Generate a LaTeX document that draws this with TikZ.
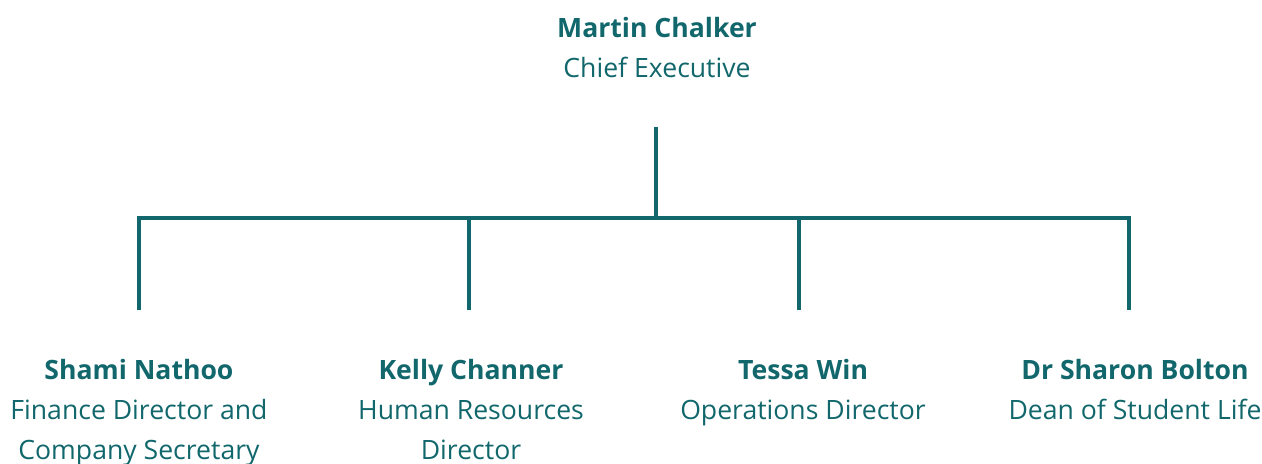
\documentclass[tikz,border=0pt]{standalone}
\usepackage{fontspec}
\setmainfont{Open Sans}
\usetikzlibrary{positioning}

\definecolor{orgteal}{HTML}{11676B}

\begin{document}
\begin{tikzpicture}[
    x=0.5pt, y=-0.5pt,
    font=\fontsize{13.3}{20}\selectfont,
    person/.style={text=orgteal, align=center, anchor=base, inner sep=0pt},
    tree/.style={draw=orgteal, line width=2pt},
]
\useasboundingbox (0,0) rectangle (1262,464);

% ---------- chief executive (placed by its last baseline) ----------
\node[person] (ceo) at (657,78) {\textbf{Martin Chalker}\\Chief Executive};

% ---------- directors ----------
\node[person] (shami)  at (139,459)  {\textbf{Shami Nathoo}\\Finance Director and\\Company Secretary};
\node[person] (kelly)  at (471,459)  {\textbf{Kelly Channer}\\Human Resources\\Director};
\node[person] (tessa)  at (803,419)  {\textbf{Tessa Win}\\Operations Director};
\node[person] (sharon) at (1135,419) {\textbf{Dr Sharon Bolton}\\Dean of Student Life};

% ---------- connectors ----------
\coordinate (stem) at (656,127);
\coordinate (bus)  at (656,218);
\draw[tree] (stem) -- (bus);
\foreach \x/\who in {139/shami, 469/kelly, 799/tessa, 1129/sharon} {
  \coordinate (\who-top) at (\x,218);
  \coordinate (\who-end) at (\x,310);
  \draw[tree] (\who-top) -- (\who-end);
}
\draw[tree, line cap=rect] (shami-top) -- (sharon-top);

\end{tikzpicture}
\end{document}
